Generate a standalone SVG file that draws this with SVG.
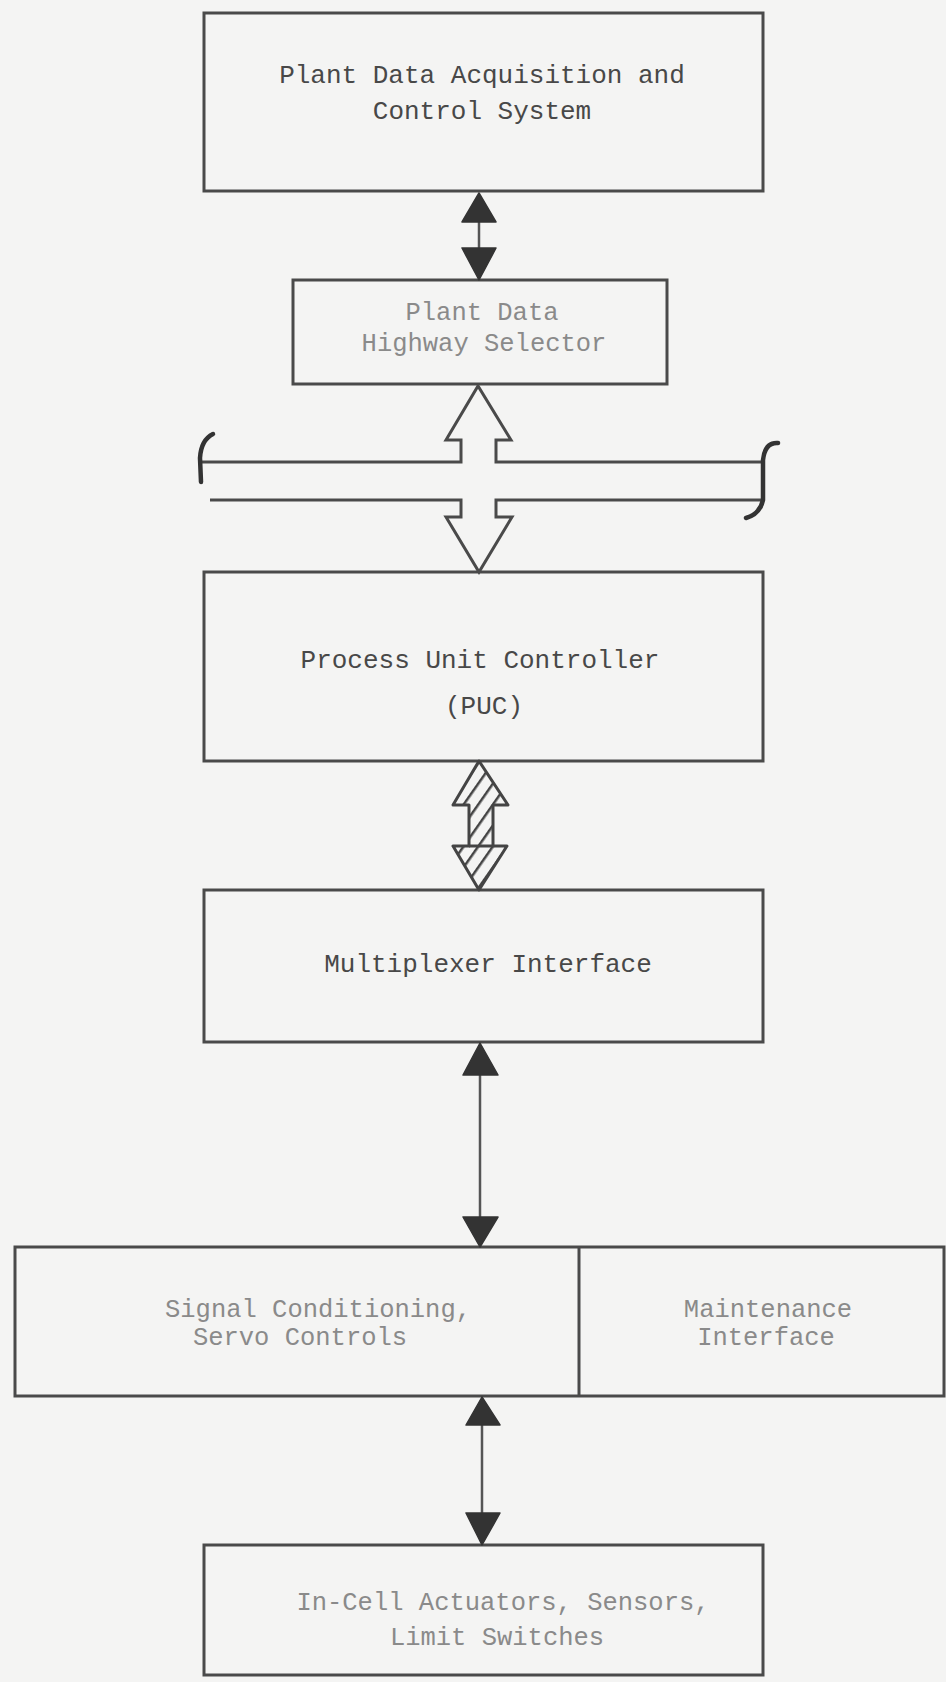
<svg xmlns="http://www.w3.org/2000/svg" width="946" height="1682" viewBox="0 0 946 1682">
<style>
.box{fill:none;stroke:#4a4a4a;stroke-width:3}
.t{font-family:"Liberation Mono","DejaVu Sans Mono",monospace;font-size:26px;fill:#484848;text-anchor:middle}
.tl{font-family:"Liberation Mono","DejaVu Sans Mono",monospace;font-size:25.5px;fill:#8a8a8a;text-anchor:middle}
.shaft{stroke:#555;stroke-width:2.5;fill:none}
.head{fill:#333;stroke:#333;stroke-width:1.5;stroke-linejoin:round}
.bus{fill:none;stroke:#4a4a4a;stroke-width:3}
.brace{fill:none;stroke:#333;stroke-width:4.5;stroke-linecap:round}
</style>
<defs>
<pattern id="hatch" patternUnits="userSpaceOnUse" width="12" height="12" patternTransform="rotate(35)">
<rect width="12" height="12" fill="#f4f4f3"/>
<line x1="1" y1="0" x2="1" y2="12" stroke="#444" stroke-width="3"/>
</pattern>
</defs>
<rect x="0" y="0" width="946" height="1682" fill="#f4f4f3"/>

<g id="pdacs">
<rect class="box" x="204" y="13" width="559" height="178"/>
<text class="t" x="482" y="83">Plant Data Acquisition and</text>
<text class="t" x="482" y="119">Control System</text>
</g>

<g id="selector">
<rect class="box" x="293" y="280" width="374" height="104"/>
<text class="tl" x="482" y="320">Plant Data</text>
<text class="tl" x="484" y="351">Highway Selector</text>
</g>

<g id="puc">
<rect class="box" x="204" y="572" width="559" height="189"/>
<text class="t" x="480" y="668">Process Unit Controller</text>
<text class="t" x="484" y="714">(PUC)</text>
</g>

<g id="mux">
<rect class="box" x="204" y="890" width="559" height="152"/>
<text class="t" x="488" y="972">Multiplexer Interface</text>
</g>

<g id="signal">
<rect class="box" x="15" y="1247" width="929" height="149"/>
<line class="box" x1="579" y1="1247" x2="579" y2="1396"/>
<text class="tl" x="318" y="1317">Signal Conditioning,</text>
<text class="tl" x="300" y="1345">Servo Controls</text>
<text class="tl" x="768" y="1317">Maintenance</text>
<text class="tl" x="766" y="1345">Interface</text>
</g>

<g id="incell">
<rect class="box" x="204" y="1545" width="559" height="130"/>
<text class="tl" x="503" y="1610">In-Cell Actuators, Sensors,</text>
<text class="tl" x="497" y="1645">Limit Switches</text>
</g>

<g id="connectors">
<line class="shaft" x1="479" y1="215" x2="479" y2="255"/>
<polygon class="head" points="479,193 462,222 496,222"/>
<polygon class="head" points="462,248 496,248 479,280"/>

<path class="bus" d="M200,462 L461,462 L461,440 L446,440 L478,386 L511,440 L496,440 L496,462 L762,462"/>
<path class="bus" d="M210,500 L461,500 L461,517 L446,517 L479,572 L512,517 L496,517 L496,500 L762,500"/>
<path class="brace" d="M213,434 Q201,440 200,458 L201,482"/>
<path class="brace" d="M778,443 Q765,442 763,460 L763,500 Q760,514 746,518"/>

<path d="M479,761 L508,805 L493,805 L493,846 L507,846 L479,890 L453,846 L469,846 L469,805 L453,805 Z" fill="url(#hatch)" stroke="#444" stroke-width="3" stroke-linejoin="round"/>
<line x1="469" y1="846" x2="493" y2="846" stroke="#444" stroke-width="3"/>

<line class="shaft" x1="480" y1="1070" x2="480" y2="1220"/>
<polygon class="head" points="480,1043 463,1075 498,1075"/>
<polygon class="head" points="463,1217 498,1217 480,1247"/>

<line class="shaft" x1="482" y1="1420" x2="482" y2="1518"/>
<polygon class="head" points="482,1397 466,1425 500,1425"/>
<polygon class="head" points="466,1513 500,1513 482,1545"/>
</g>
</svg>
